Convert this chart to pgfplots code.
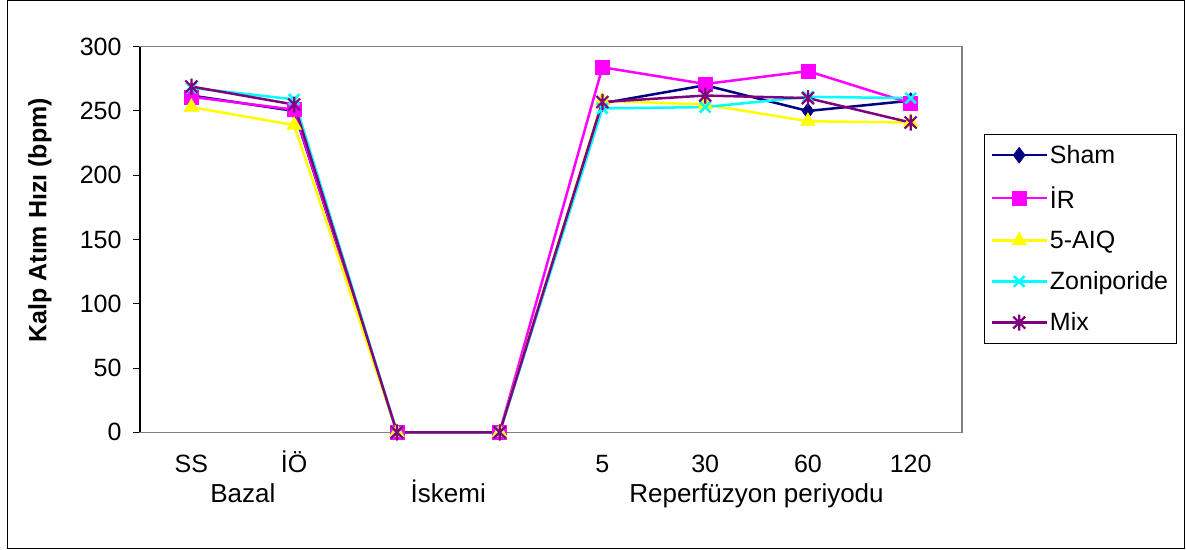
\documentclass[border=0pt]{standalone}
\usepackage{pgfplots}
\pgfplotsset{compat=1.18}
\usepackage{fontspec}
\setmainfont{Liberation Sans}
\definecolor{cSham}{RGB}{0,0,128}
\definecolor{cIR}{RGB}{255,0,255}
\definecolor{cAIQ}{RGB}{255,255,0}
\definecolor{cZon}{RGB}{0,255,255}
\definecolor{cMix}{RGB}{128,0,128}
\definecolor{frame}{RGB}{128,128,128}
\newcommand{\fs}{\fontsize{25}{30}\selectfont}
\pgfdeclareplotmark{xstar}{%
  \pgfpathmoveto{\pgfqpoint{0pt}{\pgfplotmarksize}}%
  \pgfpathlineto{\pgfqpoint{0pt}{-\pgfplotmarksize}}%
  \pgfpathmoveto{\pgfqpoint{0.75\pgfplotmarksize}{0.75\pgfplotmarksize}}%
  \pgfpathlineto{\pgfqpoint{-0.75\pgfplotmarksize}{-0.75\pgfplotmarksize}}%
  \pgfpathmoveto{\pgfqpoint{-0.75\pgfplotmarksize}{0.75\pgfplotmarksize}}%
  \pgfpathlineto{\pgfqpoint{0.75\pgfplotmarksize}{-0.75\pgfplotmarksize}}%
  \pgfusepathqstroke}
\begin{document}
\begin{tikzpicture}[x=1pt,y=1pt]
\useasboundingbox (0,0) rectangle (1186,549);
\draw[black, line width=1pt] (7,1) rectangle (1184,548);
\begin{axis}[
  at={(191.4pt,116.7pt)}, anchor=origin,
  scale only axis, width=822pt, height=385.6pt,
  xmin=-0.5, xmax=7.5, ymin=0, ymax=300,
  xtick={0,...,7}, xticklabels={SS,İÖ,,,5,30,60,120},
  ytick={0,50,...,300},
  xtick style={draw=none},
  ytick pos=left, tick align=outside,
  major tick length=7pt,
  ytick style={black, line width=1pt},
  axis line style={frame, line width=1.5pt},
  /pgf/number format/assume math mode=true,
  tick label style={font=\fs},
  xticklabel style={anchor=base, yshift=-32.7pt},
  yticklabel style={anchor=east, xshift=-8pt},
  ylabel={\bfseries Kalp Atım Hızı (bpm)},
  ylabel style={font=\fs, at={(axis description cs:-0.1217,0.55)}, anchor=center},
  clip=false,
  legend style={at={(1.0268,0.7736)}, anchor=north west, draw=black, line width=0.8pt,
     font=\fs, row sep=17.5pt, inner xsep=6pt, inner ysep=9pt},
  legend cell align=left,
  legend image code/.code={\draw[mark repeat=2,mark phase=2] plot coordinates {(0pt,0pt)(27.5pt,0pt)(55pt,0pt)};},
  every axis plot/.append style={line width=2.5pt},
]
\addplot[cSham, mark=diamond*, mark size=8pt, mark options={solid, line width=0.5pt}] coordinates {(0,262)(1,250)(2,0)(3,0)(4,256)(5,270)(6,250)(7,258)};
\addlegendentry{Sham}
\addplot[cIR, mark=square*, mark size=7pt, mark options={solid, line width=0.5pt}] coordinates {(0,261)(1,251)(2,0)(3,0)(4,284)(5,271)(6,281)(7,256)};
\addlegendentry{İR}
\addplot[cAIQ, mark=triangle*, mark size=8.5pt, mark options={solid, line width=0.5pt}] coordinates {(0,253)(1,239)(2,0)(3,0)(4,258)(5,255)(6,242)(7,241)};
\addlegendentry{5-AIQ}
\addplot[cZon, mark=x, mark size=7.5pt, mark options={solid, line width=2.5pt}] coordinates {(0,268)(1,259)(2,0)(3,0)(4,252)(5,253)(6,261)(7,260)};
\addlegendentry{Zoniporide}
\addplot[cMix, mark=xstar, mark size=8pt, mark options={solid, line width=2.2pt}] coordinates {(0,269)(1,255)(2,0)(3,0)(4,257)(5,262)(6,260)(7,241)};
\addlegendentry{Mix}
\draw[black, line width=1.5pt] (rel axis cs:0,0) -- (rel axis cs:0,1);
\node[font=\fontsize{26}{31}\selectfont, anchor=base] at (axis cs:0.5,0) [yshift=-70pt] {Bazal};
\node[font=\fontsize{26}{31}\selectfont, anchor=base] at (axis cs:2.5,0) [yshift=-70pt] {İskemi};
\node[font=\fontsize{26}{31}\selectfont, anchor=base] at (axis cs:5.5,0) [yshift=-70pt] {Reperfüzyon periyodu};
\end{axis}
\end{tikzpicture}
\end{document}
